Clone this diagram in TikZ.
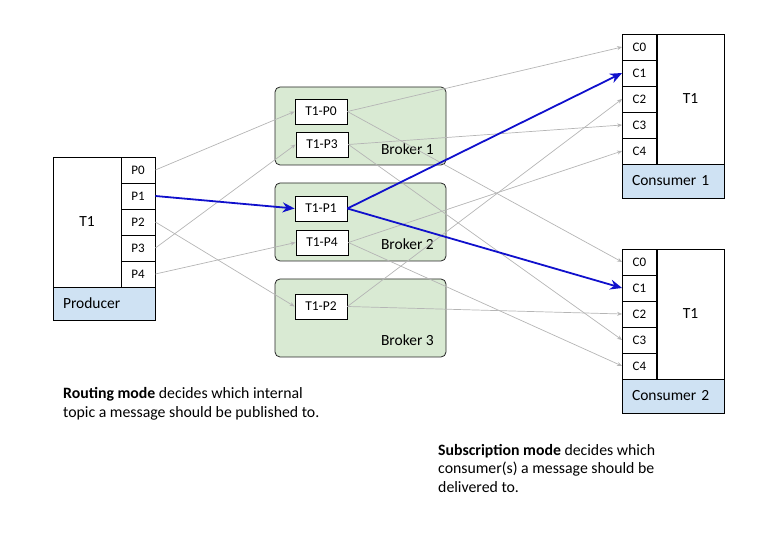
\documentclass[tikz,border=0pt]{standalone}
\usepackage{fontspec}
\setmainfont{Carlito}
\usetikzlibrary{arrows.meta, positioning}
\definecolor{brokergreen}{HTML}{D9EAD3}
\definecolor{labelblue}{HTML}{CFE2F3}
\definecolor{linkgray}{HTML}{B5B5B5}
\definecolor{routeblue}{HTML}{1010CC}

\begin{document}
\begin{tikzpicture}[x=1pt, y=-1pt,
      cell/.style={draw=black, line width=0.8pt, fill=white, minimum width=34pt, minimum height=26pt, inner sep=0pt, font=\fontsize{13}{15}\selectfont},
      part/.style={draw=black, line width=0.8pt, fill=white, inner sep=0pt, font=\fontsize{15.5}{18}\selectfont},
      owner/.style={draw=black, line width=0.8pt, fill=labelblue, text width=82pt, inner xsep=10pt, align=left, minimum height=33pt, font=\fontsize{15.5}{18}\selectfont},
      brk/.style={draw=black!85, line width=0.8pt, rounded corners=5pt, fill=brokergreen, minimum width=171pt, minimum height=78pt},
      tp/.style={draw=black, line width=0.8pt, fill=white, minimum width=52pt, minimum height=25pt, inner sep=0pt, font=\fontsize{13.5}{15}\selectfont},
      link/.style={draw=linkgray, line width=0.7pt, -{Stealth[length=5pt,width=4pt]}},
      route/.style={draw=routeblue, line width=1.8pt, -{Stealth[length=12pt,width=10pt]}}]
      \useasboundingbox (0,0) rectangle (768,534);

      % producer
      \node[part, minimum width=68pt, minimum height=130pt] (pt1) at (87,222) {T1};
      \node[cell] (p0) at (138,170) {P0};
      \node[cell] (p1) at (138,196) {P1};
      \node[cell] (p2) at (138,222) {P2};
      \node[cell] (p3) at (138,248) {P3};
      \node[cell] (p4) at (138,274) {P4};
      \node[owner] (prod) at (104,303.5) {Producer};

      % brokers
      \node[brk] (b1) at (360.5,126) {};
      \node[brk] (b2) at (360.5,222) {};
      \node[brk] (b3) at (360.5,318) {};
      \node[anchor=base east, inner sep=0pt, font=\fontsize{15.5}{18}\selectfont] (b1l) at (434,155) {Broker 1};
      \node[anchor=base east, inner sep=0pt, font=\fontsize{15.5}{18}\selectfont] (b2l) at (434,250) {Broker 2};
      \node[anchor=base east, inner sep=0pt, font=\fontsize{15.5}{18}\selectfont] (b3l) at (434,345) {Broker 3};
      \node[tp] (tp0) at (321,111.5) {T1-P0};
      \node[tp] (tp3) at (322,144.5) {T1-P3};
      \node[tp] (tp1) at (321,208.5) {T1-P1};
      \node[tp] (tp4) at (322,242.5) {T1-P4};
      \node[tp] (tp2) at (321,306.5) {T1-P2};

      % consumer 1
      \node[part, minimum width=67pt, minimum height=130pt] (ct1) at (690.5,99) {T1};
      \node[cell] (c10) at (639.5,47) {C0};
      \node[cell] (c11) at (639.5,73) {C1};
      \node[cell] (c12) at (639.5,99) {C2};
      \node[cell] (c13) at (639.5,125) {C3};
      \node[cell] (c14) at (639.5,151) {C4};
      \node[owner, minimum height=34pt] (cons1) at (673,181) {Consumer 1};

      % consumer 2
      \node[part, minimum width=67pt, minimum height=130pt] (dt1) at (690.5,314) {T1};
      \node[cell] (c20) at (639.5,262) {C0};
      \node[cell] (c21) at (639.5,288) {C1};
      \node[cell] (c22) at (639.5,314) {C2};
      \node[cell] (c23) at (639.5,340) {C3};
      \node[cell] (c24) at (639.5,366) {C4};
      \node[owner, minimum height=34pt] (cons2) at (673,396) {Consumer 2};

      % routing
      \draw[link] (p0.east) -- (tp0.west);
      \draw[link] (p2.east) -- (tp2.west);
      \draw[link] (p3.east) -- (tp3.west);
      \draw[link] (p4.east) -- (tp4.west);
      \draw[route] (p1.east) -- (tp1.west);

      % subscription
      \draw[link] (tp0.east) -- (c10.west);
      \draw[link] (tp2.east) -- (c12.west);
      \draw[link] (tp3.east) -- (c13.west);
      \draw[link] (tp4.east) -- (c14.west);
      \draw[link] (tp0.east) -- (c20.west);
      \draw[link] (tp2.east) -- (c22.west);
      \draw[link] (tp3.east) -- (c23.west);
      \draw[link] (tp4.east) -- (c24.west);
      \draw[route] (tp1.east) -- (c11.west);
      \draw[route] (tp1.east) -- (c21.west);

      \node[anchor=north west, inner sep=0pt, align=left, font=\fontsize{15.8}{19.5}\selectfont] (routing) at (63,387)
        {\textbf{Routing mode} decides which internal\\topic a message should be published to.};
      \node[anchor=north west, inner sep=0pt, align=left, font=\fontsize{15.8}{18.5}\selectfont] (subscr) at (438,444)
        {\textbf{Subscription mode} decides which\\consumer(s) a message should be\\delivered to.};
    \end{tikzpicture}
\end{document}
